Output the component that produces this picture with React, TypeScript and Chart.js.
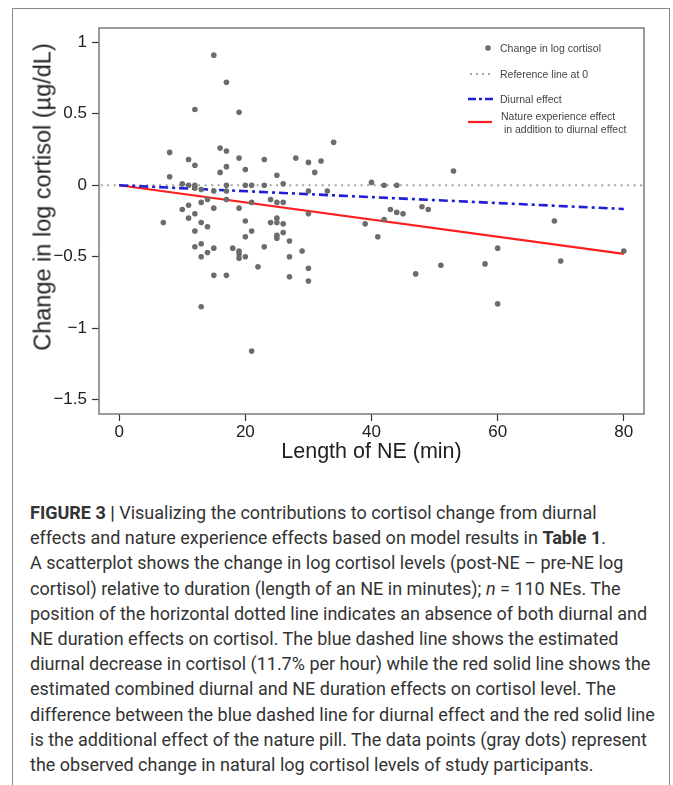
import React, { useEffect, useRef } from "react";
import { Chart, registerables } from "chart.js";

Chart.register(...registerables);

// ---- data ----
const neMinutes = [
  7, 8, 8, 10, 10, 11, 11, 11, 11,
  12, 12, 12, 12, 12, 12, 12,
  13, 13, 13, 13, 13, 13,
  14, 14, 14,
  15, 15, 15, 15, 15,
  16, 16,
  17, 17, 17, 17, 17, 17, 17,
  18,
  19, 19, 19, 19, 19, 19,
  20, 20, 20, 20, 20,
  21, 21, 21, 21,
  22,
  23, 23, 23,
  24, 24,
  25, 25, 25, 25, 25, 25,
  26, 26, 26, 26,
  27, 27, 27,
  28, 29,
  30, 30, 30, 30, 30,
  31, 32, 33, 34,
  39, 40, 41, 42, 42, 43, 44, 44, 45, 47, 48, 49, 51, 53, 58, 60, 60, 69, 70, 80,
];
const logCortisolChange = [
  -0.26, 0.23, 0.06, 0.01, -0.17, 0.18, 0.0, -0.14, -0.23,
  0.53, 0.14, 0.0, -0.02, -0.2, -0.32, -0.43,
  -0.03, -0.12, -0.26, -0.41, -0.5, -0.85,
  -0.1, -0.29, -0.47,
  0.91, -0.04, -0.16, -0.44, -0.63,
  0.26, 0.09,
  0.72, 0.24, 0.13, 0.0, -0.04, -0.1, -0.63,
  -0.44,
  0.51, 0.19, -0.16, -0.46, -0.48, -0.51,
  0.11, 0.0, -0.25, -0.36, -0.5,
  0.0, -0.12, -0.32, -1.16,
  -0.57,
  0.18, 0.0, -0.43,
  -0.1, -0.26,
  0.07, -0.12, -0.23, -0.26, -0.35, -0.37,
  0.01, -0.12, -0.27, -0.33,
  -0.39, -0.5, -0.64,
  0.19, -0.46,
  0.16, -0.04, -0.2, -0.58, -0.67,
  0.09, 0.17, -0.04, 0.3,
  -0.27, 0.02, -0.36, 0.0, -0.24, -0.17, 0.0, -0.19, -0.2, -0.62, -0.15, -0.17, -0.56, 0.1, -0.55, -0.44, -0.83, -0.25, -0.53, -0.46,
];
const fitX = [0, 80];
const diurnalY = [0, -0.166];
const natureY = [0, -0.48];
const refX = [-5, 85];
const refY = [0, 0];
const xTickValues = [0, 20, 40, 60, 80];
const yTickValues = [1, 0.5, 0, -0.5, -1, -1.5];
const xRange = [-3.2, 83.2];
const yRange = [-1.6, 1.1];

const FONT = '"Liberation Sans", Arial, sans-serif';

const fmt = (v: number) => (v < 0 ? "\u2212" + String(Math.abs(v)) : String(v));

const boxPlugin = {
  id: "plotBox",
  afterDraw(chart: any) {
    const { ctx, chartArea } = chart;
    const { left, top, right, bottom } = chartArea;
    ctx.save();
    ctx.strokeStyle = "#7a7a7a";
    ctx.lineWidth = 1.5;
    ctx.strokeRect(left, top, right - left, bottom - top);
    ctx.restore();
  },
};

function ScatterChart() {
  const ref = useRef<HTMLCanvasElement | null>(null);
  useEffect(() => {
    if (!ref.current) return;
    const pts = neMinutes.map((x, i) => ({ x, y: logCortisolChange[i] }));
    const toXY = (xs: number[], ys: number[]) => xs.map((x, i) => ({ x, y: ys[i] }));
    const tickGrid = {
      display: true,
      drawOnChartArea: false,
      drawTicks: true,
      tickLength: 7,
      tickColor: "#333",
      tickWidth: 1.2,
    };
    const chart = new Chart(ref.current, {
      type: "scatter",
      data: {
        datasets: [
          {
            label: "Change in log cortisol",
            data: pts,
            pointRadius: 2.8,
            pointBackgroundColor: "#6c6c6c",
            pointBorderWidth: 0,
            showLine: false,
          },
          {
            label: "Diurnal effect",
            data: toXY(fitX, diurnalY),
            showLine: true,
            pointRadius: 0,
            borderColor: "#1f1fd8",
            borderWidth: 2.6,
            borderDash: [9, 4, 3, 4],
            fill: false,
          },
          {
            label: "Nature experience effect in addition to diurnal effect",
            data: toXY(fitX, natureY),
            showLine: true,
            pointRadius: 0,
            borderColor: "#ff1e1e",
            borderWidth: 2.2,
            fill: false,
          },
          {
            label: "Reference line at 0",
            data: toXY(refX, refY),
            showLine: true,
            pointRadius: 0,
            borderColor: "#a3a3a3",
            borderWidth: 1.8,
            borderDash: [2, 4.5],
            fill: false,
          },
        ],
      },
      options: {
        animation: false,
        responsive: false,
        devicePixelRatio: 1,
        events: [],
        layout: { padding: { left: 0, top: 28, right: 29, bottom: 0 } },
        plugins: { legend: { display: false }, tooltip: { enabled: false } },
        scales: {
          x: {
            type: "linear",
            min: xRange[0],
            max: xRange[1],
            afterBuildTicks: (s: any) => {
              s.ticks = xTickValues.map((v) => ({ value: v }));
            },
            afterFit: (s: any) => {
              s.height = 66;
            },
            grid: tickGrid,
            border: { display: false },
            ticks: {
              color: "#222",
              font: { family: FONT, size: 17 },
              padding: 1,
              maxRotation: 0,
              autoSkip: false,
              callback: (v: any) => fmt(Number(v)),
            },
            title: {
              display: true,
              text: "Length of NE (min)",
              color: "#222",
              font: { family: FONT, size: 21.5 },
              padding: { top: 0, bottom: 15 },
            },
          },
          y: {
            type: "linear",
            min: yRange[0],
            max: yRange[1],
            afterBuildTicks: (s: any) => {
              s.ticks = yTickValues.map((v) => ({ value: v }));
            },
            afterFit: (s: any) => {
              s.width = 99;
            },
            grid: tickGrid,
            border: { display: false },
            ticks: {
              color: "#222",
              font: { family: FONT, size: 17 },
              padding: 5,
              autoSkip: false,
              callback: (v: any) => fmt(Number(v)),
            },
            title: { display: false },
          },
        },
      },
      plugins: [boxPlugin],
    } as any);
    return () => chart.destroy();
  }, []);
  return <canvas ref={ref} width={673} height={480} style={{ position: "absolute", left: 0, top: 0 }} />;
}

const legendText: React.CSSProperties = {
  position: "absolute",
  fontFamily: FONT,
  fontSize: 10.5,
  color: "#444",
  whiteSpace: "pre",
  lineHeight: "12px",
};

function Legend() {
  return (
    <>
      <svg width={673} height={160} style={{ position: "absolute", left: 0, top: 0 }}>
        <circle cx={488} cy={48} r={2.8} fill="#6c6c6c" />
        <line x1={470} y1={74} x2={494} y2={74} stroke="#a3a3a3" strokeWidth={1.8} strokeDasharray="2 4" />
        <line x1={468} y1={99} x2={494} y2={99} stroke="#1f1fd8" strokeWidth={2.6} strokeDasharray="8 3 3 3" />
        <line x1={468} y1={122} x2={492} y2={122} stroke="#ff1e1e" strokeWidth={2.2} />
      </svg>
      <div style={{ ...legendText, left: 500, top: 42 }}>Change in log cortisol</div>
      <div style={{ ...legendText, left: 500, top: 68 }}>Reference line at 0</div>
      <div style={{ ...legendText, left: 500, top: 93 }}>Diurnal effect</div>
      <div style={{ ...legendText, left: 501, top: 110 }}>Nature experience effect</div>
      <div style={{ ...legendText, left: 501, top: 123 }}> in addition to diurnal effect</div>
    </>
  );
}

const captionLines: React.ReactNode[] = [
  <><b>FIGURE 3 |</b> Visualizing the contributions to cortisol change from diurnal</>,
  <>effects and nature experience effects based on model results in <b>Table 1</b>.</>,
  <>A scatterplot shows the change in log cortisol levels (post-NE – pre-NE log</>,
  <>cortisol) relative to duration (length of an NE in minutes); <i>n</i> = 110 NEs. The</>,
  <>position of the horizontal dotted line indicates an absence of both diurnal and</>,
  <>NE duration effects on cortisol. The blue dashed line shows the estimated</>,
  <>diurnal decrease in cortisol (11.7% per hour) while the red solid line shows the</>,
  <>estimated combined diurnal and NE duration effects on cortisol level. The</>,
  <>difference between the blue dashed line for diurnal effect and the red solid line</>,
  <>is the additional effect of the nature pill. The data points (gray dots) represent</>,
  <>the observed change in natural log cortisol levels of study participants.</>,
];

export default function App() {
  return (
    <div style={{ position: "absolute", left: 0, top: 0, width: 673, height: 785, overflow: "hidden", background: "#fff" }}>
      <div
        style={{
          position: "absolute",
          left: 12,
          top: 8,
          width: 658,
          height: 777,
          boxSizing: "border-box",
          borderTop: "1.5px solid #8a8a8a",
          borderLeft: "1.5px solid #8a8a8a",
          borderRight: "1.5px solid #8a8a8a",
        }}
      />
      <ScatterChart />
      <Legend />
      <div
        style={{
          position: "absolute",
          left: 43,
          top: 197,
          transform: "translate(-50%, -50%) rotate(-90deg)",
          fontFamily: FONT,
          fontSize: 23.5,
          color: "#222",
          whiteSpace: "nowrap",
        }}
      >
        Change in log cortisol (µg/dL)
      </div>
      {captionLines.map((ln, i) => (
        <div
          key={i}
          style={{
            position: "absolute",
            left: 30,
            top: 500 + i * 25.2,
            fontFamily: "Roboto, 'Noto Sans', sans-serif",
            fontSize: 18,
            letterSpacing: "0px",
            lineHeight: "26px",
            color: "#333",
            whiteSpace: "nowrap",
          }}
        >
          {ln}
        </div>
      ))}
    </div>
  );
}
